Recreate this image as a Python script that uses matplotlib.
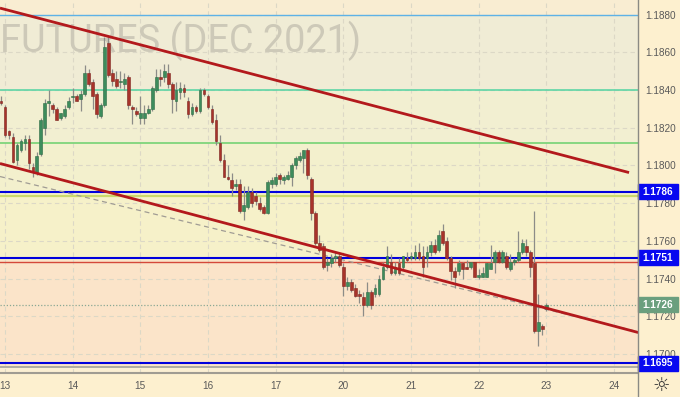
import numpy as np
import matplotlib.pyplot as plt
import matplotlib.transforms as mtransforms
from matplotlib.patches import Rectangle
from matplotlib.lines import Line2D

plt.rc('font', family=['Liberation Sans', 'DejaVu Sans'], size=7)

# ---------------- data ----------------
day_labels = ['13', '14', '15', '16', '17', '20', '21', '22', '23', '24']
bars_per_day = 17
first_bar = -1   # one bar of the previous session shows at the left edge

opens = [1.1834,
    1.1831, 1.1818, 1.1815, 1.1803, 1.1808, 1.1812, 1.1814, 1.1799, 1.1796, 1.1806, 1.1820, 1.1833, 1.1832, 1.1830, 1.1825, 1.1826, 1.1831,
    1.1836, 1.1837, 1.1835, 1.1838, 1.1849, 1.1844, 1.1838, 1.1826, 1.1832, 1.1865, 1.1849, 1.1846, 1.1844, 1.1843, 1.1847, 1.1831, 1.1829,
    1.1825, 1.1825, 1.1828, 1.1830, 1.1840, 1.1847, 1.1847, 1.1849, 1.1843, 1.1834, 1.1839, 1.1841, 1.1834, 1.1827, 1.1831, 1.1829, 1.1840,
    1.1837, 1.1830, 1.1824, 1.1812, 1.1803, 1.1794, 1.1792, 1.1789, 1.1790, 1.1776, 1.1778, 1.1786, 1.1784, 1.1780, 1.1778, 1.1775, 1.1790,
    1.1790, 1.1795, 1.1792, 1.1793, 1.1794, 1.1800, 1.1803, 1.1804, 1.1808, 1.1793, 1.1775, 1.1759, 1.1757, 1.1747, 1.1748, 1.1751, 1.1752,
    1.1746, 1.1736, 1.1738, 1.1735, 1.1732, 1.1730, 1.1726, 1.1733, 1.1732, 1.1732, 1.1740, 1.1746, 1.1749, 1.1743, 1.1748, 1.1746, 1.1751,
    1.1751, 1.1751, 1.1754, 1.1752, 1.1751, 1.1754, 1.1758, 1.1755, 1.1765, 1.1760, 1.1751, 1.1744, 1.1744, 1.1748, 1.1746, 1.1746, 1.1749,
    1.1741, 1.1741, 1.1741, 1.1745, 1.1749, 1.1754, 1.1749, 1.1752, 1.1745, 1.1749, 1.1750, 1.1754, 1.1757, 1.1754, 1.1748, 1.1712, 1.1715,
    1.1724]
highs = [1.1837,
    1.1832, 1.1819, 1.1817, 1.1812, 1.1814, 1.1816, 1.1816, 1.1801, 1.1807, 1.1825, 1.1835, 1.1840, 1.1833, 1.1831, 1.1828, 1.1832, 1.1836,
    1.1841, 1.1838, 1.1840, 1.1853, 1.1851, 1.1846, 1.1839, 1.1833, 1.1868, 1.1868, 1.1851, 1.1850, 1.1850, 1.1849, 1.1848, 1.1832, 1.1831,
    1.1837, 1.1832, 1.1832, 1.1842, 1.1851, 1.1851, 1.1854, 1.1854, 1.1844, 1.1844, 1.1844, 1.1843, 1.1836, 1.1833, 1.1832, 1.1841, 1.1841,
    1.1838, 1.1832, 1.1827, 1.1816, 1.1806, 1.1800, 1.1796, 1.1793, 1.1793, 1.1789, 1.1789, 1.1788, 1.1786, 1.1783, 1.1779, 1.1792, 1.1794,
    1.1796, 1.1796, 1.1795, 1.1797, 1.1801, 1.1805, 1.1807, 1.1808, 1.1809, 1.1794, 1.1776, 1.1763, 1.1759, 1.1751, 1.1753, 1.1754, 1.1754,
    1.1748, 1.1741, 1.1740, 1.1737, 1.1734, 1.1733, 1.1738, 1.1734, 1.1737, 1.1742, 1.1749, 1.1757, 1.1753, 1.1749, 1.1751, 1.1752, 1.1754,
    1.1754, 1.1758, 1.1759, 1.1757, 1.1757, 1.1760, 1.1761, 1.1766, 1.1769, 1.1762, 1.1752, 1.1746, 1.1750, 1.1749, 1.1750, 1.1749, 1.1749,
    1.1745, 1.1746, 1.1748, 1.1758, 1.1755, 1.1755, 1.1755, 1.1754, 1.1753, 1.1751, 1.1765, 1.1761, 1.1761, 1.1755, 1.1776, 1.1732, 1.1716,
    1.1727]
lows = [1.1832,
    1.1815, 1.1814, 1.1801, 1.1800, 1.1807, 1.1808, 1.1798, 1.1794, 1.1795, 1.1805, 1.1816, 1.1826, 1.1828, 1.1824, 1.1824, 1.1825, 1.1830,
    1.1833, 1.1834, 1.1829, 1.1837, 1.1842, 1.1830, 1.1825, 1.1825, 1.1831, 1.1847, 1.1842, 1.1841, 1.1841, 1.1840, 1.1830, 1.1822, 1.1826,
    1.1822, 1.1822, 1.1827, 1.1829, 1.1839, 1.1842, 1.1844, 1.1841, 1.1828, 1.1829, 1.1835, 1.1836, 1.1825, 1.1826, 1.1828, 1.1828, 1.1837,
    1.1830, 1.1822, 1.1811, 1.1802, 1.1794, 1.1792, 1.1784, 1.1787, 1.1775, 1.1771, 1.1777, 1.1778, 1.1779, 1.1776, 1.1774, 1.1774, 1.1788,
    1.1789, 1.1790, 1.1790, 1.1792, 1.1789, 1.1798, 1.1802, 1.1796, 1.1793, 1.1771, 1.1758, 1.1754, 1.1745, 1.1744, 1.1746, 1.1749, 1.1746,
    1.1731, 1.1734, 1.1733, 1.1730, 1.1727, 1.1720, 1.1725, 1.1724, 1.1730, 1.1731, 1.1739, 1.1745, 1.1742, 1.1742, 1.1742, 1.1745, 1.1749,
    1.1750, 1.1750, 1.1750, 1.1741, 1.1746, 1.1752, 1.1753, 1.1754, 1.1758, 1.1750, 1.1739, 1.1735, 1.1742, 1.1740, 1.1745, 1.1745, 1.1741,
    1.1740, 1.1741, 1.1741, 1.1745, 1.1743, 1.1748, 1.1748, 1.1745, 1.1744, 1.1747, 1.1749, 1.1753, 1.1752, 1.1741, 1.1711, 1.1704, 1.1710,
    1.1723]
closes = [1.1833,
    1.1816, 1.1816, 1.1802, 1.1811, 1.1813, 1.1814, 1.1801, 1.1797, 1.1805, 1.1824, 1.1833, 1.1834, 1.1830, 1.1824, 1.1828, 1.1830, 1.1834,
    1.1837, 1.1834, 1.1838, 1.1849, 1.1843, 1.1837, 1.1827, 1.1832, 1.1863, 1.1848, 1.1845, 1.1842, 1.1845, 1.1846, 1.1832, 1.1830, 1.1827,
    1.1828, 1.1828, 1.1830, 1.1841, 1.1847, 1.1846, 1.1850, 1.1843, 1.1835, 1.1840, 1.1841, 1.1839, 1.1827, 1.1831, 1.1829, 1.1840, 1.1838,
    1.1831, 1.1823, 1.1813, 1.1803, 1.1794, 1.1793, 1.1788, 1.1790, 1.1776, 1.1779, 1.1786, 1.1780, 1.1781, 1.1777, 1.1775, 1.1791, 1.1792,
    1.1794, 1.1793, 1.1794, 1.1795, 1.1800, 1.1804, 1.1805, 1.1808, 1.1795, 1.1775, 1.1759, 1.1755, 1.1746, 1.1749, 1.1751, 1.1752, 1.1747,
    1.1736, 1.1738, 1.1734, 1.1731, 1.1731, 1.1726, 1.1733, 1.1726, 1.1735, 1.1740, 1.1746, 1.1752, 1.1743, 1.1746, 1.1743, 1.1752, 1.1750,
    1.1752, 1.1754, 1.1751, 1.1746, 1.1754, 1.1758, 1.1754, 1.1763, 1.1759, 1.1751, 1.1744, 1.1741, 1.1748, 1.1745, 1.1745, 1.1749, 1.1741,
    1.1742, 1.1743, 1.1748, 1.1748, 1.1754, 1.1749, 1.1754, 1.1746, 1.1749, 1.1750, 1.1754, 1.1759, 1.1754, 1.1746, 1.1712, 1.1717, 1.1713,
    1.1726]

price_ticks = [1.1700, 1.1720, 1.1740, 1.1760, 1.1780, 1.1800, 1.1820, 1.1840, 1.1860, 1.1880]
last_price = 1.1726
tagged_levels = [1.1786, 1.1751, 1.1695]

# horizontal levels drawn on the chart
level_prices = [1.1880, 1.1840, 1.1812, 1.1784, 1.1786, 1.1749, 1.1751, 1.1693, 1.1695]
level_colors = ['#5eb2e6', '#52d4a2', '#6ad06c', '#cbd96c', '#0000dd', '#d4483a', '#0000dd', '#a8a8a0', '#0000dd']
level_widths = [1.0, 1.1, 1.1, 1.6, 1.5, 1.0, 1.5, 1.3, 1.5]

# background zones (price from, price to, colour)
zone_edges = [1.1895, 1.1880, 1.1840, 1.1812, 1.1786, 1.1750, 1.1693, 1.1680]
zone_colors = ['#f9edd2', '#f0ecd5', '#f2efd1', '#f3f0cd', '#f6f1c9', '#fbe4c9', '#fbefd2']

# trend lines (bar index, price)
upper_trend = ([-1.26, 156.8], [1.18834, 1.17962])
lower_trend = ([-1.26, 159.1], [1.18010, 1.17114])
dashed_trend = ([-1.26, 158.3], [1.17941, 1.17122])


def main():
    W, H = 680, 397
    ax_w, ax_h = 638, 373
    fig = plt.figure(figsize=(W / 100, H / 100), dpi=100, facecolor='#fdf0cf')
    ax = fig.add_axes((0, (H - ax_h) / H, ax_w / W, ax_h / H))

    idx = np.arange(len(opens)) + first_bar
    o = np.array(opens); h = np.array(highs); l = np.array(lows); c = np.array(closes)

    ylo, yhi = 1.168992, 1.188769
    ax.set_xlim(-1.256, 159.05)
    ax.set_ylim(ylo, yhi)

    # zones
    for i, col in enumerate(zone_colors):
        ax.axhspan(zone_edges[i + 1], zone_edges[i], color=col, lw=0, zorder=0)

    # grid
    day_pos = [bars_per_day * k for k in range(len(day_labels))]
    for p in price_ticks:
        ax.axhline(p, color='#dcd8c6', lw=0.8, dashes=(4, 3), zorder=0.5)
    for d in day_pos:
        ax.axvline(d, color='#dcd8c6', lw=0.8, dashes=(4, 3), zorder=0.5)

    # watermark
    ax.text(0, 1 - 52.5 / ax_h, 'FUTURES (DEC 2021)', transform=ax.transAxes,
            family='Roboto', fontsize=27.3, color='#cdc9b8', ha='left', va='baseline', zorder=1)

    # levels
    for p, col, lw in zip(level_prices, level_colors, level_widths):
        ax.axhline(p, color=col, lw=lw, zorder=2)
    ax.axhline(last_price, color='#8aa894', lw=0.9, ls=(0, (1, 1.5)), zorder=2)

    ax.plot(dashed_trend[0], dashed_trend[1], color='#a09c94', lw=0.9, dashes=(4, 3), zorder=2.5)

    # candles
    up = c >= o
    body_lo = np.minimum(o, c)
    body_h = np.maximum(np.abs(c - o), 0.00004)
    ax.vlines(idx, l, h, color='#8c8c88', lw=0.9, zorder=3)
    ax.bar(idx[up], body_h[up], bottom=body_lo[up], width=0.68, color='#3d8c5c',
           edgecolor='#2e6b45', lw=0.4, zorder=3.2)
    ax.bar(idx[~up], body_h[~up], bottom=body_lo[~up], width=0.68, color='#a8332a',
           edgecolor='#7e2520', lw=0.4, zorder=3.2)

    # trend lines
    for tl in (upper_trend, lower_trend):
        ax.plot(tl[0], tl[1], color='#b3191c', lw=2.0, solid_capstyle='butt', zorder=4)

    # axes cosmetics
    for s in ('top', 'left', 'right'):
        ax.spines[s].set_visible(False)
    ax.spines['bottom'].set_color('#a09c92')
    ax.spines['bottom'].set_linewidth(1.5)
    ax.yaxis.tick_right()
    ax.set_yticks(price_ticks)
    ax.set_yticklabels(['%.4f' % p for p in price_ticks])
    ax.tick_params(axis='y', length=0, pad=5, labelsize=7.2, labelcolor='#5a5a5a')
    ax.set_xticks(day_pos)
    ax.set_xticklabels(day_labels)
    ax.tick_params(axis='x', length=0, pad=6, labelsize=7.2, labelcolor='#5a5a5a')

    # price axis separator
    fig.add_artist(Line2D([ax_w / W, ax_w / W], [0, 1], color='#8a8a84', lw=1.0))

    # price tags on the axis
    tr = mtransforms.blended_transform_factory(ax.transAxes, ax.transData)
    tag_h = 15 / ax_h * (yhi - ylo)
    tag_w = 40 / ax_w
    for p in tagged_levels:
        ax.add_patch(Rectangle((1.0, p - tag_h / 2), tag_w, tag_h, transform=tr,
                               color='#0808f0', clip_on=False, zorder=6))
        ax.text(1.0 + tag_w / 2, p, '%.4f' % p, transform=tr, ha='center', va='center',
                color='white', fontsize=7.2, weight='bold', zorder=7, clip_on=False)
    ax.add_patch(Rectangle((1.0, last_price - tag_h / 2), tag_w, tag_h, transform=tr,
                           color='#6a9f7e', clip_on=False, zorder=6))
    ax.text(1.0 + tag_w / 2, last_price, '%.4f' % last_price, transform=tr, ha='center',
            va='center', color='white', fontsize=7.2, weight='bold', zorder=7, clip_on=False)

    # settings icon
    fig.text(661 / W, 1 - 385 / H, '\u263c', ha='center', va='center', fontsize=14,
             color='#333333', family='DejaVu Sans')

    fig.savefig('out.png', dpi=100, facecolor=fig.get_facecolor())


if __name__ == '__main__':
    main()
